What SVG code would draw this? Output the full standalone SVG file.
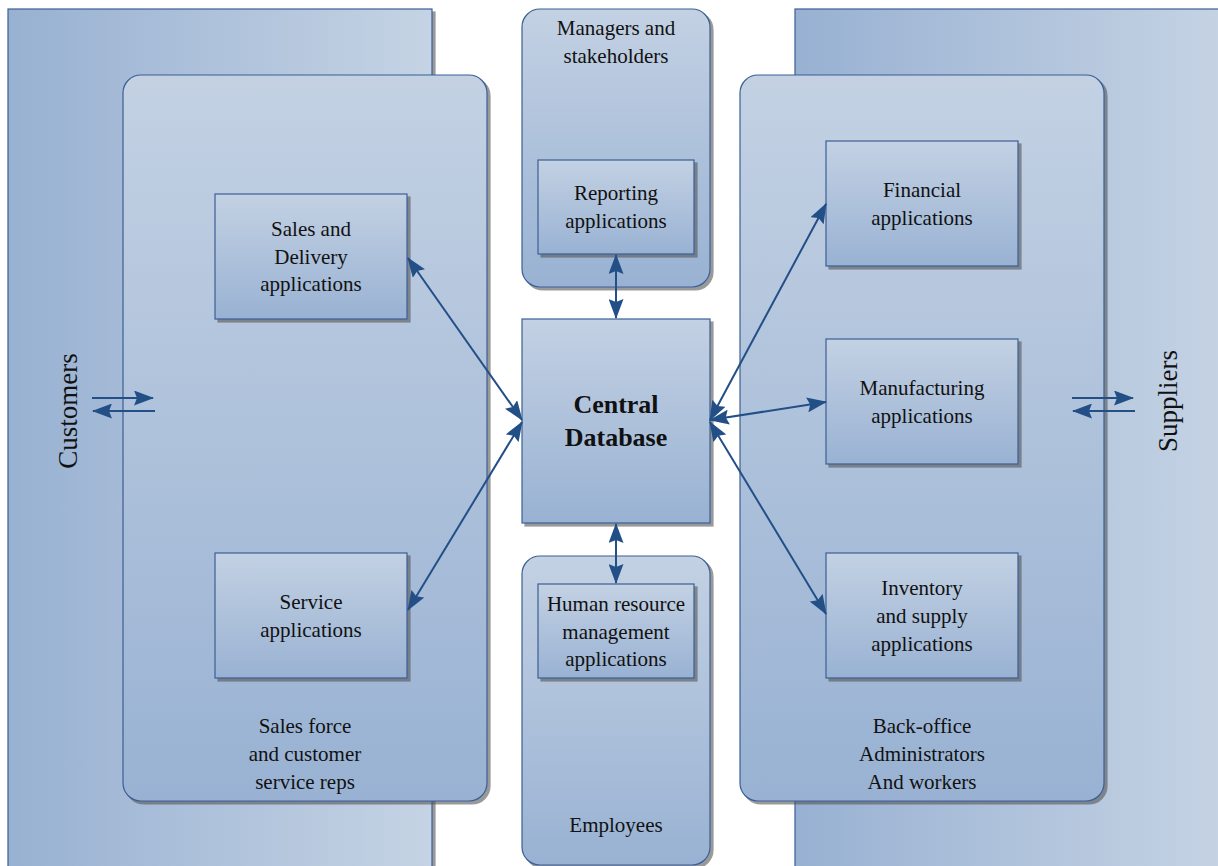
<svg xmlns="http://www.w3.org/2000/svg" width="1218" height="866" viewBox="0 0 1218 866">
  <defs>
    <linearGradient id="gv" x1="0" y1="0" x2="0" y2="1">
      <stop offset="0" stop-color="#c3d1e3"/>
      <stop offset="1" stop-color="#99b2d3"/>
    </linearGradient>
    <linearGradient id="gh" x1="0" y1="0" x2="1" y2="0">
      <stop offset="0" stop-color="#98b1d2"/>
      <stop offset="1" stop-color="#c5d3e4"/>
    </linearGradient>
    <!-- filled arrowhead with a shallow notch, used at both ends of links -->
    <marker id="ah" viewBox="0 0 20 15" refX="19" refY="7.5" markerWidth="20" markerHeight="15" markerUnits="userSpaceOnUse" orient="auto-start-reverse">
      <path d="M0,0 L20,7.5 L0,15 L3,7.5 Z" fill="#234f87"/>
    </marker>
    <filter id="sh" x="-5%" y="-5%" width="115%" height="115%">
      <feDropShadow dx="3" dy="3" stdDeviation="0.6" flood-color="#555" flood-opacity="0.6"/>
    </filter>
  </defs>
  <style>
    .zone { fill: url(#gh); stroke: #3a5f95; stroke-width: 1.2; filter: url(#sh); }
    .grp { fill: url(#gv); stroke: #3a5f95; stroke-width: 1.2; filter: url(#sh); }
    .box { fill: url(#gv); stroke: #3a5f95; stroke-width: 1.2; filter: url(#sh); }
    .t { font-family: "Liberation Serif", "Times New Roman", serif; font-size: 21px; fill: #111; text-anchor: middle; }
    .tb { font-family: "Liberation Serif", "Times New Roman", serif; font-size: 26px; font-weight: bold; fill: #111; text-anchor: middle; }
    .side { font-family: "Liberation Serif", "Times New Roman", serif; font-size: 27px; fill: #111; text-anchor: middle; }
    .c { stroke: #234f87; stroke-width: 2; fill: none; marker-end: url(#ah); }
    .cc { stroke: #234f87; stroke-width: 2; fill: none; marker-end: url(#ah); marker-start: url(#ah); }
  </style>

  <!-- outer parties -->
  <g id="customers">
    <rect class="zone" x="8" y="9" width="424" height="870"/>
    <text class="side" transform="translate(77,411) rotate(-90)">Customers</text>
  </g>
  <g id="suppliers">
    <rect class="zone" x="795" y="9" width="430" height="870"/>
    <text class="side" transform="translate(1177,401) rotate(-90)">Suppliers</text>
  </g>

  <!-- user groups -->
  <g id="sales-force">
    <rect class="grp" x="123" y="75" width="364" height="726" rx="18"/>
    <text class="t" x="305" y="733">Sales force</text>
    <text class="t" x="305" y="761">and customer</text>
    <text class="t" x="305" y="789">service reps</text>
  </g>
  <g id="back-office">
    <rect class="grp" x="740" y="75" width="364" height="726" rx="18"/>
    <text class="t" x="922" y="733">Back-office</text>
    <text class="t" x="922" y="761">Administrators</text>
    <text class="t" x="922" y="789">And workers</text>
  </g>
  <g id="managers">
    <rect class="grp" x="522" y="9" width="188" height="278" rx="18"/>
    <text class="t" x="616" y="35">Managers and</text>
    <text class="t" x="616" y="63">stakeholders</text>
  </g>
  <g id="employees">
    <rect class="grp" x="522" y="556" width="188" height="309" rx="18"/>
    <text class="t" x="616" y="832">Employees</text>
  </g>

  <!-- applications -->
  <g id="central-db">
    <rect class="box" x="522" y="319" width="188" height="204"/>
    <text class="tb" x="616" y="413">Central</text>
    <text class="tb" x="616" y="446">Database</text>
  </g>
  <g id="reporting">
    <rect class="box" x="538" y="160" width="156" height="94"/>
    <text class="t" x="616" y="200">Reporting</text>
    <text class="t" x="616" y="228">applications</text>
  </g>
  <g id="hr">
    <rect class="box" x="538" y="584" width="156" height="94"/>
    <text class="t" x="616" y="611">Human resource</text>
    <text class="t" x="616" y="639">management</text>
    <text class="t" x="616" y="666">applications</text>
  </g>
  <g id="sales-delivery">
    <rect class="box" x="215" y="194" width="192" height="125"/>
    <text class="t" x="311" y="236">Sales and</text>
    <text class="t" x="311" y="264">Delivery</text>
    <text class="t" x="311" y="291">applications</text>
  </g>
  <g id="service">
    <rect class="box" x="215" y="553" width="192" height="125"/>
    <text class="t" x="311" y="609">Service</text>
    <text class="t" x="311" y="637">applications</text>
  </g>
  <g id="financial">
    <rect class="box" x="826" y="141" width="192" height="125"/>
    <text class="t" x="922" y="197">Financial</text>
    <text class="t" x="922" y="225">applications</text>
  </g>
  <g id="manufacturing">
    <rect class="box" x="826" y="339" width="192" height="125"/>
    <text class="t" x="922" y="395">Manufacturing</text>
    <text class="t" x="922" y="423">applications</text>
  </g>
  <g id="inventory">
    <rect class="box" x="826" y="553" width="192" height="125"/>
    <text class="t" x="922" y="595">Inventory</text>
    <text class="t" x="922" y="623">and supply</text>
    <text class="t" x="922" y="651">applications</text>
  </g>

  <!-- connectors -->
  <g id="connectors">
    <line class="cc" x1="616" y1="255" x2="616" y2="318"/>
    <line class="cc" x1="616" y1="524" x2="616" y2="583"/>
    <line class="cc" x1="408" y1="258" x2="522" y2="420"/>
    <line class="cc" x1="408" y1="610" x2="522" y2="422"/>
    <line class="cc" x1="710" y1="420" x2="826" y2="204"/>
    <line class="cc" x1="710" y1="420" x2="826" y2="402"/>
    <line class="cc" x1="710" y1="422" x2="826" y2="614"/>
    <line class="c" x1="92" y1="398" x2="153" y2="398"/>
    <line class="c" x1="155" y1="411" x2="93" y2="411"/>
    <line class="c" x1="1072" y1="398" x2="1133" y2="398"/>
    <line class="c" x1="1135" y1="411" x2="1073" y2="411"/>
  </g>
</svg>
